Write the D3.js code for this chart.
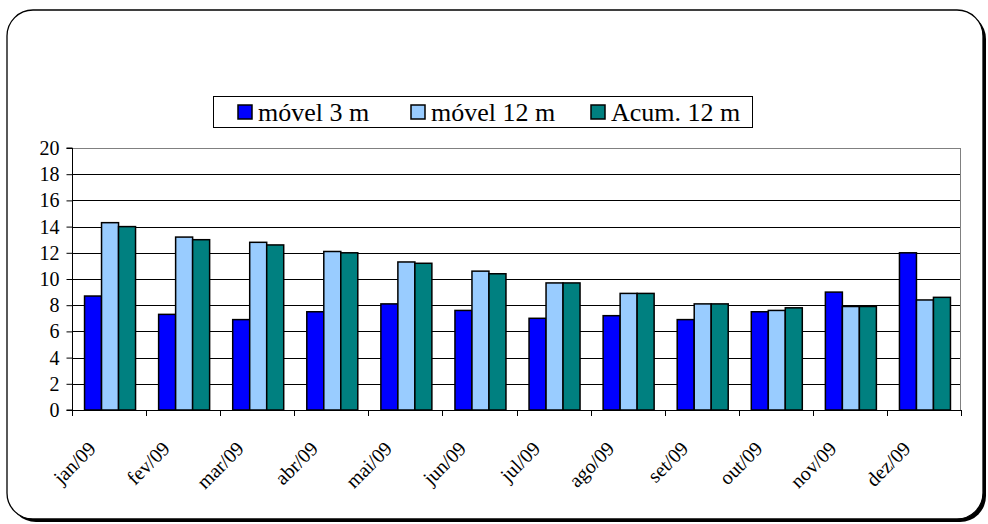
<!DOCTYPE html>
<html>
<head>
<meta charset="utf-8">
<script src="https://cdn.jsdelivr.net/npm/d3@7"></script>
<style>
  body { margin: 0; background: #fff; }
  svg text { fill: #000; }
</style>
</head>
<body>
<div id="chart"></div>
<script>
var months = ["jan/09", "fev/09", "mar/09", "abr/09", "mai/09", "jun/09",
              "jul/09", "ago/09", "set/09", "out/09", "nov/09", "dez/09"];
var seriesNames = ["móvel 3 m", "móvel 12 m", "Acum. 12 m"];
var movel3 = [8.7, 7.3, 6.9, 7.5, 8.1, 7.6, 7.0, 7.2, 6.9, 7.5, 9.0, 12.0];
var movel12 = [14.3, 13.2, 12.8, 12.1, 11.3, 10.6, 9.7, 8.9, 8.1, 7.6, 7.9, 8.4];
var acum12 = [14.0, 13.0, 12.6, 12.0, 11.2, 10.4, 9.7, 8.9, 8.1, 7.8, 7.9, 8.6];
var yTicks = [0, 2, 4, 6, 8, 10, 12, 14, 16, 18, 20];
var colors = ["#0000ff", "#99ccff", "#008080"];

var W = 988, H = 524,
    serif = "'Liberation Serif', 'Times New Roman', Times, Tinos, 'Noto Serif', 'DejaVu Serif', FreeSerif, serif";
var svg = d3.select("#chart").append("svg")
    .attr("width", W)
    .attr("height", H)
    .attr("font-family", serif);

// outer frame with shadow
svg.append("rect")
    .attr("x", 10).attr("y", 13)
    .attr("width", 976).attr("height", 509)
    .attr("rx", 26).attr("fill", "#000");
svg.append("rect")
    .attr("x", 7).attr("y", 10)
    .attr("width", 976).attr("height", 509)
    .attr("rx", 26)
    .attr("fill", "#fff")
    .attr("stroke", "#000")
    .attr("stroke-width", 1.3);

var pLeft = 72, pRight = 961, pTop = 148, pBottom = 410;

var x0 = d3.scaleBand().domain(months).range([pLeft, pRight]);
var x1 = d3.scaleBand().domain(seriesNames).range([0, 51]);
var y = d3.scaleLinear().domain([0, 20]).range([pBottom, pTop]);

var data = months.map(function(m, i) {
  return { key: m, values: [movel3[i], movel12[i], acum12[i]] };
});

// plot frame
svg.append("rect")
    .attr("x", pLeft + 0.5).attr("y", pTop + 0.5)
    .attr("width", pRight - pLeft - 1).attr("height", pBottom - pTop)
    .attr("fill", "#fff")
    .attr("stroke", "#808080")
    .attr("stroke-width", 1);

// gridlines
svg.append("g")
  .selectAll("line")
  .data(yTicks.filter(function(d) { return d > 0 && d < 20; }))
  .enter().append("line")
    .attr("x1", pLeft).attr("x2", pRight - 1)
    .attr("y1", function(d) { return Math.round(y(d)) + 0.5; })
    .attr("y2", function(d) { return Math.round(y(d)) + 0.5; })
    .attr("stroke", "#000")
    .attr("stroke-width", 1);

// bars
var groups = svg.append("g")
  .selectAll("g")
  .data(data)
  .enter().append("g")
    .attr("transform", function(d) {
      return "translate(" + (x0(d.key) + (x0.bandwidth() - 51) / 2 + 1) + ",0)";
    });

groups.selectAll("rect")
  .data(function(d) {
    return d.values.map(function(v, j) { return { name: seriesNames[j], value: v, j: j }; });
  })
  .enter().append("rect")
    .attr("x", function(d) { return x1(d.name); })
    .attr("y", function(d) { return y(d.value); })
    .attr("width", x1.bandwidth())
    .attr("height", function(d) { return pBottom - y(d.value); })
    .attr("fill", function(d) { return colors[d.j]; })
    .attr("stroke", "#000")
    .attr("stroke-width", 1.5);

// y axis
var yAxis = svg.append("g")
    .attr("transform", "translate(" + (pLeft + 0.5) + ",0)")
    .call(d3.axisLeft(y).tickValues(yTicks).tickSize(6).tickPadding(7));
yAxis.attr("font-family", serif).attr("font-size", null);
yAxis.selectAll("text").style("font-size", "20px");
yAxis.selectAll("line,path").attr("stroke", "#000");
yAxis.select(".domain").attr("d", "M-6," + pBottom + "H0V" + pTop + "H-6");

// x axis
var xAxis = svg.append("g")
    .attr("transform", "translate(0," + pBottom + ")");
xAxis.append("line")
    .attr("x1", pLeft).attr("x2", pRight)
    .attr("y1", 0.5).attr("y2", 0.5)
    .attr("stroke", "#000");
xAxis.selectAll(".tk")
  .data(months.concat(["end"]))
  .enter().append("line")
    .attr("class", "tk")
    .attr("x1", function(d, i) { return Math.round(pLeft + i * x0.bandwidth()) + 0.5; })
    .attr("x2", function(d, i) { return Math.round(pLeft + i * x0.bandwidth()) + 0.5; })
    .attr("y1", 0).attr("y2", 6)
    .attr("stroke", "#000");
xAxis.selectAll(".lbl")
  .data(months)
  .enter().append("text")
    .attr("class", "lbl")
    .attr("text-anchor", "end")
    .attr("dy", "0.35em")
    .style("font-size", "20px")
    .attr("transform", function(d) {
      return "translate(" + (x0(d) + x0.bandwidth() / 2 - 17) + ",35) rotate(-45)";
    })
    .text(function(d) { return d; });

// legend
var legend = svg.append("g");
legend.append("rect")
    .attr("x", 213.5).attr("y", 96.5)
    .attr("width", 539).attr("height", 31)
    .attr("fill", "#fff")
    .attr("stroke", "#000")
    .attr("stroke-width", 1);
var legendX = [238, 411, 591];
var items = legend.selectAll(".item")
  .data(seriesNames)
  .enter().append("g")
    .attr("class", "item")
    .attr("transform", function(d, i) { return "translate(" + legendX[i] + ",0)"; });
items.append("rect")
    .attr("x", 0).attr("y", 105)
    .attr("width", 14).attr("height", 14)
    .attr("fill", function(d, i) { return colors[i]; })
    .attr("stroke", "#000")
    .attr("stroke-width", 1.5);
items.append("text")
    .attr("x", 20).attr("y", 121)
    .style("font-size", "26px")
    .text(function(d) { return d; });
</script>
</body>
</html>
